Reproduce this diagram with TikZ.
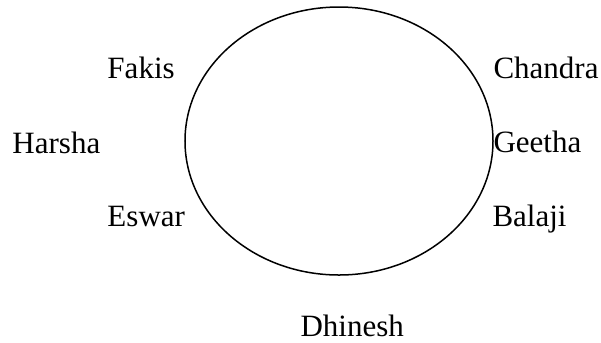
\documentclass[tikz,border=0pt]{standalone}
\usepackage{fontspec}
\setmainfont{Liberation Serif}
\usetikzlibrary{shapes.geometric}

\begin{document}
\begin{tikzpicture}[x=0.4pt, y=-0.4pt,
    person/.style={anchor=base west, inner sep=0pt, font=\fontsize{12.4}{15}\selectfont}]
  \useasboundingbox (0,0) rectangle (601,342);

  % The circle in the middle.
  \node[draw, ellipse, line width=0.6pt, inner sep=0pt,
    minimum width=123.2pt, minimum height=107.2pt] (ring) at (339,141) {};

  % Names round it.
  \node[person] (fakis) at (107,78) {Fakis};
  \node[person] (chandra) at (493,78) {Chandra};
  \node[person] (harsha) at (12,153) {Harsha};
  \node[person] (geetha) at (493,152) {Geetha};
  \node[person] (eswar) at (107,226) {Eswar};
  \node[person] (balaji) at (492,226) {Balaji};
  \node[person] (dhinesh) at (300,336) {Dhinesh};
\end{tikzpicture}
\end{document}
